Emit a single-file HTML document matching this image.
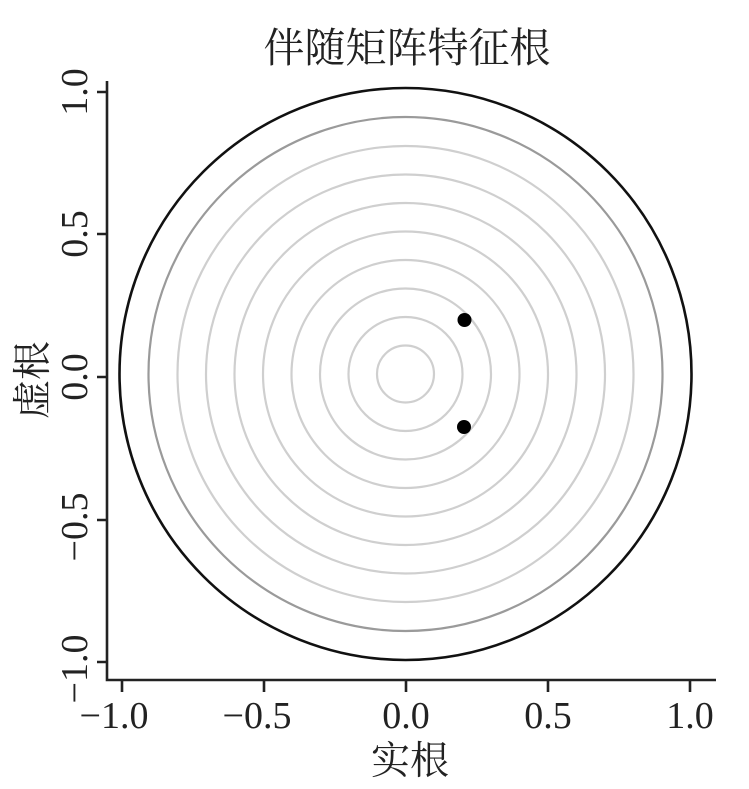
<!DOCTYPE html>
<html><head><meta charset="utf-8"><style>html,body{margin:0;padding:0;background:#fff}</style></head>
<body>
<svg width="749" height="784" viewBox="0 0 749 784" xmlns="http://www.w3.org/2000/svg">
<rect width="749" height="784" fill="#fff"/>
<g fill="none" stroke="#cfcfcf" stroke-width="2.2">
<circle cx="405.5" cy="374" r="28.5"/>
<circle cx="405.5" cy="374" r="57"/>
<circle cx="405.5" cy="374" r="85.5"/>
<circle cx="405.5" cy="374" r="114"/>
<circle cx="405.5" cy="374" r="142.5"/>
<circle cx="405.5" cy="374" r="171"/>
<circle cx="405.5" cy="374" r="199.5"/>
<circle cx="405.5" cy="374" r="228"/>
</g>
<circle cx="405.5" cy="374" r="257" fill="none" stroke="#9a9a9a" stroke-width="2.2"/>
<circle cx="405.5" cy="374" r="286" fill="none" stroke="#111" stroke-width="2.6"/>
<circle cx="464.5" cy="320" r="7" fill="#000"/>
<circle cx="464" cy="427" r="7" fill="#000"/>
<g stroke="#222" stroke-width="2.6" fill="none">
<path d="M107 81 V680 H716"/>
<path d="M122 680 v12 M264 680 v12 M406 680 v12 M548 680 v12 M690 680 v12"/>
<path d="M97 92 h10 M97 234 h10 M97 377 h10 M97 520 h10 M97 662 h10"/>
</g>
<g font-family="Liberation Serif, serif" font-size="38" fill="#222" text-anchor="middle">
<text x="114" y="728">−1.0</text>
<text x="257" y="728">−0.5</text>
<text x="406" y="728">0.0</text>
<text x="548" y="728">0.5</text>
<text x="690" y="728">1.0</text>
<text transform="translate(87,92) rotate(-90)">1.0</text>
<text transform="translate(87,234) rotate(-90)">0.5</text>
<text transform="translate(87,377) rotate(-90)">0.0</text>
<text transform="translate(87,527) rotate(-90)">−0.5</text>
<text transform="translate(87,669) rotate(-90)">−1.0</text>
</g>
<g font-family="Liberation Serif, 'Noto Serif CJK SC', serif" fill="#222" text-anchor="middle">
<text x="407" y="62" font-size="41">伴随矩阵特征根</text>
<text x="410" y="774" font-size="39">实根</text>
<text transform="translate(46,380) rotate(-90)" font-size="39">虚根</text>
</g>
</svg>
</body></html>
